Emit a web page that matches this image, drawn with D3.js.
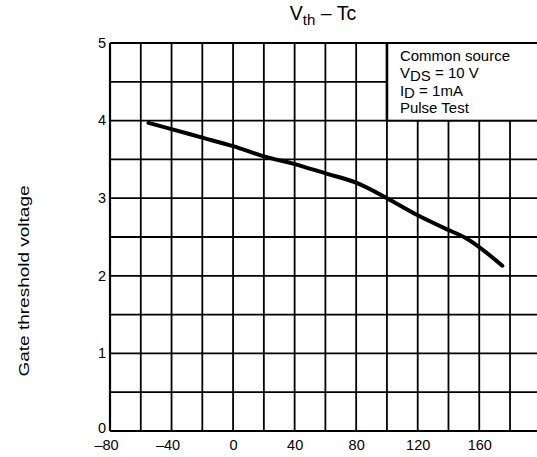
<!DOCTYPE html>
<html>
<head>
<meta charset="utf-8">
<script src="https://cdn.jsdelivr.net/npm/d3@7/dist/d3.min.js"></script>
<style>
  html, body { margin: 0; padding: 0; background: #fff; overflow: hidden; }
  svg { display: block; font-family: "Liberation Sans", Arial, Helvetica, sans-serif; }
</style>
</head>
<body>
<svg id="chart" width="537" height="457"></svg>
<script>
// Case temperature (°C) and gate threshold voltage (V)
const caseTemp = [-55, -40, -20, 0, 20, 40, 60, 80, 100, 120, 140, 150, 175];
const vth      = [3.97, 3.89, 3.78, 3.67, 3.54, 3.44, 3.32, 3.20, 3.00, 2.78, 2.59, 2.50, 2.13];

const xTickLabels = [-80, -40, 0, 40, 80, 120, 160];
const yTickLabels = [0, 1, 2, 3, 4, 5];

const svg = d3.select("#chart");
const FONT = "Liberation Sans, Arial, sans-serif";

// plot spans -80..200 °C; the right edge runs just past the page
const x = d3.scaleLinear().domain([-80, 200]).range([110, 540.8]);
const y = d3.scaleLinear().domain([0, 5]).range([431, 43]);

// grid
const grid = svg.append("g").attr("stroke", "#000").attr("stroke-width", 1.8);
grid.selectAll("line.v").data(d3.range(-80, 201, 20)).join("line")
  .attr("x1", d => x(d)).attr("x2", d => x(d))
  .attr("y1", y(0)).attr("y2", y(5));
grid.selectAll("line.h").data(d3.range(0, 5.01, 0.5)).join("line")
  .attr("x1", x(-80)).attr("x2", x(200))
  .attr("y1", d => y(d)).attr("y2", d => y(d));

// condition box in the upper-right corner
const lx0 = x(100), lx1 = x(200), ly0 = y(5), ly1 = y(4);
svg.append("rect").attr("x", lx0).attr("y", ly0)
  .attr("width", lx1 - lx0).attr("height", ly1 - ly0)
  .attr("fill", "#fff").attr("stroke", "#000").attr("stroke-width", 1.8);
svg.append("line").attr("x1", lx0).attr("x2", lx0).attr("y1", ly0).attr("y2", ly1)
  .attr("stroke", "#000").attr("stroke-width", 2.6);

const legend = svg.append("g").attr("font-size", 15).attr("fill", "#000");
const lx = lx0 + 13;
legend.append("text").attr("x", lx).attr("y", 60.5).text("Common source");
const l2 = legend.append("text").attr("x", lx).attr("y", 78);
l2.append("tspan").text("V");
l2.append("tspan").attr("dy", 2.5).text("DS");
l2.append("tspan").attr("dy", -2.5).text(" = 10 V");
const l3 = legend.append("text").attr("x", lx).attr("y", 95.5);
l3.append("tspan").text("I");
l3.append("tspan").attr("dy", 2).text("D");
l3.append("tspan").attr("dy", -2).text(" = 1mA");
legend.append("text").attr("x", lx).attr("y", 113).text("Pulse Test");

// curve
svg.append("path")
  .datum(caseTemp.map((t, i) => [t, vth[i]]))
  .attr("fill", "none").attr("stroke", "#000").attr("stroke-width", 4)
  .attr("stroke-linecap", "round").attr("stroke-linejoin", "round")
  .attr("d", d3.line().x(d => x(d[0])).y(d => y(d[1])).curve(d3.curveMonotoneX));

// x tick labels: digits centred on the tick, en dash hanging to the left
const xAxis = d3.axisBottom(x).tickValues(xTickLabels).tickSize(0).tickPadding(8)
  .tickFormat(d => d < 0 ? "\u2013" + Math.abs(d) : String(d));
const gx = svg.append("g").attr("transform", `translate(0,${y(0)})`).call(xAxis);
gx.select(".domain").remove();
gx.selectAll("text").attr("font-size", 14.5).attr("fill", "#000").attr("font-family", FONT)
  .attr("dx", d => d < 0 ? -4 : 0).attr("y", 9).attr("dy", "0.71em");

const yAxis = d3.axisLeft(y).tickValues(yTickLabels).tickSize(0).tickPadding(4)
  .tickFormat(d3.format("d"));
const gy = svg.append("g").attr("transform", `translate(${x(-80)},0)`).call(yAxis);
gy.select(".domain").remove();
gy.selectAll("text").attr("font-size", 14.5).attr("fill", "#000").attr("font-family", FONT)
  .attr("dy", d => d === 0 ? "0.1em" : "0.3em");

// heavier left, bottom and top frame lines
svg.append("line").attr("x1", x(-80)).attr("x2", x(200)).attr("y1", y(0)).attr("y2", y(0))
  .attr("stroke", "#000").attr("stroke-width", 2.2);
svg.append("line").attr("x1", x(-80)).attr("x2", x(200)).attr("y1", y(5)).attr("y2", y(5))
  .attr("stroke", "#000").attr("stroke-width", 2.2);
svg.append("line").attr("x1", x(-80)).attr("x2", x(-80)).attr("y1", y(0)).attr("y2", y(5))
  .attr("stroke", "#000").attr("stroke-width", 2.2);

// title
const title = svg.append("text").attr("x", 323).attr("y", 20)
  .attr("text-anchor", "middle").attr("font-size", 19.5).attr("fill", "#000");
title.append("tspan").text("V");
title.append("tspan").attr("font-size", 15).attr("dy", 5).text("th");
title.append("tspan").attr("dy", -5).text(" \u2013 Tc");

// y axis title
svg.append("text")
  .attr("transform", "translate(28.5,281) rotate(-90)")
  .attr("text-anchor", "middle").attr("font-size", 14).attr("fill", "#000")
  .attr("textLength", 191).attr("lengthAdjust", "spacingAndGlyphs")
  .text("Gate threshold voltage");
</script>
</body>
</html>
